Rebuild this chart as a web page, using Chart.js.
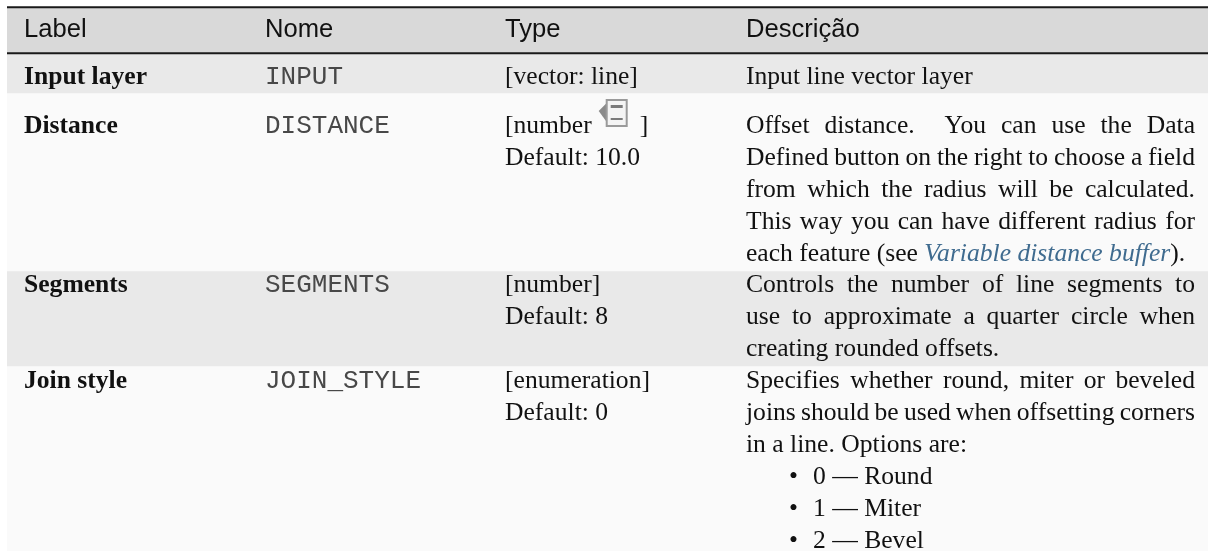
<!DOCTYPE html>
<html>
<head>
<meta charset="utf-8">
<style>
html, body { margin: 0; padding: 0; background: #fff; }
#tabela { display: block; }
</style>
<script src="https://cdn.jsdelivr.net/npm/chart.js@4"></script>
</head>
<body>
<canvas id="tabela" width="1208" height="551"></canvas>
<script>
// heights of the horizontal bands
const bandNames = ['margem', 'regra1', 'header', 'regra2', 'input', 'distance', 'segments', 'join'];
const bandHeights = [6, 2, 44, 2, 39, 178, 95, 185];
const bandColors = ['#ffffff', '#1a1a1a', '#d9d9d9', '#1a1a1a', '#e9e9e9', '#fafafa', '#e9e9e9', '#fafafa'];

const headers = ['Label', 'Nome', 'Type', 'Descrição'];
const labels = ['Input layer', 'Distance', 'Segments', 'Join style'];
const names = ['INPUT', 'DISTANCE', 'SEGMENTS', 'JOIN_STYLE'];
const types = ['[vector: line]', '[number', '[number]', '[enumeration]'];
const defaults = ['', 'Default: 10.0', 'Default: 8', 'Default: 0'];
const rowBaselines = [84, 133, 292, 388];

const descInput = ['Input line vector layer'];
const descDistance = [
    'Offset distance.  You can use the Data',
    'Defined button on the right to choose a field',
    'from which the radius will be calculated.',
    'This way you can have different radius for'
];
const descDistanceLast = ['each feature (see ', 'Variable distance buffer', ').'];
const descSegments = [
    'Controls the number of line segments to',
    'use to approximate a quarter circle when',
    'creating rounded offsets.'
];
const descJoin = [
    'Specifies whether round, miter or beveled',
    'joins should be used when offsetting corners',
    'in a line. Options are:'
];
const joinOptions = ['0 — Round', '1 — Miter', '2 — Bevel'];

const colX = [24, 265, 505, 746];
const colRight = 1195;
const lineH = 32;
const SERIF = '25.6px "Liberation Serif"';
const BOLD = 'bold 25.6px "Liberation Serif"';
const ITALIC = 'italic 25.6px "Liberation Serif"';
const MONO = '26px "Liberation Mono"';
const SANS = '25.6px "Liberation Sans"';
const TINTA = '#111111';

function escreve(ctx, txt, x, y, font, cor, largura) {
    ctx.font = font;
    ctx.fillStyle = cor || TINTA;
    ctx.wordSpacing = '0px';
    if (largura) {
        // justificado: reparte o que falta pelos espacos
        const falta = largura - ctx.measureText(txt).width;
        const espacos = txt.split(' ').length - 1;
        if (espacos > 0) ctx.wordSpacing = (falta / espacos) + 'px';
    }
    ctx.fillText(txt, x, y);
    ctx.wordSpacing = '0px';
}

function desenhaIcone(ctx, x, y) {
    ctx.fillStyle = '#8a8a8a';
    ctx.beginPath();
    ctx.moveTo(x, y + 11);
    ctx.lineTo(x + 8, y + 3);
    ctx.lineTo(x + 8, y + 22);
    ctx.fill();
    ctx.fillStyle = '#f4f4f4';
    ctx.strokeStyle = '#9a9a9a';
    ctx.lineWidth = 2;
    ctx.fillRect(x + 8, y, 20, 26);
    ctx.strokeRect(x + 8, y, 20, 26);
    ctx.fillStyle = '#7a7a7a';
    ctx.fillRect(x + 12, y + 5, 12, 3);
    ctx.fillRect(x + 12, y + 18, 12, 2);
}

const textoTabela = {
    id: 'textoTabela',
    afterDatasetsDraw(chart) {
        const ctx = chart.ctx;
        const ys = chart.scales.y;
        const py = (v) => ys.getPixelForValue(v);
        const largura = colRight - colX[3];
        ctx.save();
        ctx.textBaseline = 'alphabetic';
        ctx.textAlign = 'left';

        headers.forEach((h, i) => escreve(ctx, h, colX[i], py(37), SANS));

        labels.forEach((t, i) => {
            const b = py(rowBaselines[i]);
            escreve(ctx, t, colX[0], b, BOLD);
            escreve(ctx, names[i], colX[1], b, MONO, '#484848');
            escreve(ctx, types[i], colX[2], b, SERIF);
            if (defaults[i]) escreve(ctx, defaults[i], colX[2], b + lineH, SERIF);
        });

        // icone de data defined dentro de [number ]
        ctx.font = SERIF;
        const fimNumber = colX[2] + ctx.measureText(types[1]).width;
        desenhaIcone(ctx, fimNumber + 7, py(100));
        escreve(ctx, ']', fimNumber + 48, py(rowBaselines[1]), SERIF);

        escreve(ctx, descInput[0], colX[3], py(rowBaselines[0]), SERIF);

        descDistance.forEach((t, i) => {
            escreve(ctx, t, colX[3], py(rowBaselines[1] + i * lineH), SERIF, TINTA, largura);
        });
        let x = colX[3];
        const yUlt = py(rowBaselines[1] + 4 * lineH);
        descDistanceLast.forEach((t, i) => {
            const link = i === 1;
            escreve(ctx, t, x, yUlt, link ? ITALIC : SERIF, link ? '#3f6b8f' : TINTA);
            x += ctx.measureText(t).width;
        });

        descSegments.forEach((t, i) => {
            const ult = i === descSegments.length - 1;
            escreve(ctx, t, colX[3], py(rowBaselines[2] + i * lineH), SERIF, TINTA, ult ? 0 : largura);
        });
        descJoin.forEach((t, i) => {
            const ult = i === descJoin.length - 1;
            escreve(ctx, t, colX[3], py(rowBaselines[3] + i * lineH), SERIF, TINTA, ult ? 0 : largura);
        });
        joinOptions.forEach((t, i) => {
            const b = py(rowBaselines[3] + (i + 3) * lineH);
            escreve(ctx, '•', colX[3] + 43, b, SERIF);
            escreve(ctx, t, colX[3] + 67, b, SERIF);
        });
        ctx.restore();
    }
};

new Chart(document.getElementById('tabela'), {
    type: 'bar',
    data: {
        labels: ['tabela'],
        datasets: bandNames.map((n, i) => ({
            label: n,
            data: [bandHeights[i]],
            backgroundColor: bandColors[i],
            borderWidth: 0,
            barPercentage: 1,
            categoryPercentage: 1
        }))
    },
    options: {
        responsive: false,
        animation: false,
        layout: { padding: { left: 7, top: 0, right: 0, bottom: 0 } },
        plugins: { legend: { display: false }, tooltip: { enabled: false } },
        scales: {
            x: { stacked: true, display: false },
            y: { stacked: true, display: false, reverse: true, min: 0, max: 551 }
        }
    },
    plugins: [textoTabela]
});
</script>
</body>
</html>
